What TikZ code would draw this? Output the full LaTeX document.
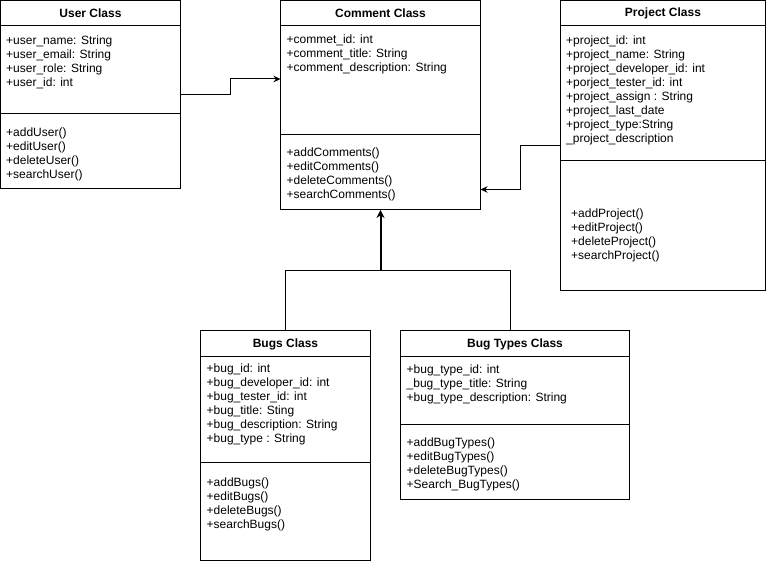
\documentclass[tikz,border=0pt]{standalone}
\usepackage{fontspec}
\setmainfont{Liberation Sans}
\usetikzlibrary{arrows.meta}
\begin{document}
\begin{tikzpicture}[x=1pt,y=-1pt,
 cls/.style={draw, line width=1pt, inner sep=0pt, outer sep=0pt, anchor=north west},
 ttl/.style={font=\fontsize{12}{14}\selectfont\bfseries, inner sep=0pt, anchor=center},
 txt/.style={font=\fontsize{12}{14}\selectfont, inner sep=0pt, anchor=north west, align=left},
 sepline/.style={line width=1pt},
 conn/.style={line width=1pt, -{Stealth[length=7pt,width=6.5pt]}},
 bus/.style={line width=1pt},
 thick conn/.style={line width=2pt, -{Stealth[length=8pt,width=8pt]}},
]
\useasboundingbox (0,0) rectangle (766,564);
\fill[white] (0,0) rectangle (766,564);

% User Class
\node[cls, minimum width=180pt, minimum height=188.5pt] (user) at (0.5,0.5) {};
\node[ttl] (userT) at (90.5,13) {User Class};
\draw[sepline] (0.5,26) -- (180.5,26);
\draw[sepline] (0.5,113.5) -- (180.5,113.5);
\node[txt] (userA) at (6,34.3) {\rule{0pt}{10pt}+user\_name: String\\+user\_email: String\\+user\_role: String\\+user\_id: int};
\node[txt] (userM) at (6,126) {\rule{0pt}{10pt}+addUser()\\+editUser()\\+deleteUser()\\+searchUser()};

% Comment Class
\node[cls, minimum width=200pt, minimum height=209.5pt] (comment) at (280.5,0.5) {};
\node[ttl] (commentT) at (380.5,13) {Comment Class};
\draw[sepline] (280.5,26) -- (480.5,26);
\draw[sepline] (280.5,134.5) -- (480.5,134.5);
\node[txt] (commentA) at (286.5,33.8) {\rule{0pt}{10pt}+commet\_id: int\\+comment\_title: String\\+comment\_description: String};
\node[txt] (commentM) at (286.5,146.3) {\rule{0pt}{10pt}+addComments()\\+editComments()\\+deleteComments()\\+searchComments()};

% Project Class
\node[cls, minimum width=205pt, minimum height=290pt] (project) at (560.5,0.5) {};
\node[ttl] (projectT) at (663,13) {Project Class};
\draw[sepline] (560.5,26) -- (765.5,26);
\draw[sepline] (560.5,160.5) -- (765.5,160.5);
\node[txt] (projectA) at (566,34.3) {\rule{0pt}{10pt}+project\_id: int\\+project\_name: String\\+project\_developer\_id: int\\+porject\_tester\_id: int\\+project\_assign : String\\+project\_last\_date\\+project\_type:String\\\_project\_description};
\node[txt] (projectM) at (571,207.3) {\rule{0pt}{10pt}+addProject()\\+editProject()\\+deleteProject()\\+searchProject()};

% Bugs Class
\node[cls, minimum width=170pt, minimum height=230pt] (bugs) at (200.5,330.5) {};
\node[ttl] (bugsT) at (285.5,344) {Bugs Class};
\draw[sepline] (200.5,356) -- (370.5,356);
\draw[sepline] (200.5,462.5) -- (370.5,462.5);
\node[txt] (bugsA) at (206.5,362.3) {\rule{0pt}{10pt}+bug\_id: int\\+bug\_developer\_id: int\\+bug\_tester\_id: int\\+bug\_title: Sting\\+bug\_description: String\\+bug\_type : String};
\node[txt] (bugsM) at (206.5,476.5) {\rule{0pt}{10pt}+addBugs()\\+editBugs()\\+deleteBugs()\\+searchBugs()};

% Bug Types Class
\node[cls, minimum width=229pt, minimum height=169pt] (bugtypes) at (400.5,330.5) {};
\node[ttl] (bugtypesT) at (515,344) {Bug Types Class};
\draw[sepline] (400.5,356.5) -- (629.5,356.5);
\draw[sepline] (400.5,424) -- (629.5,424);
\node[txt] (bugtypesA) at (406.5,363.3) {\rule{0pt}{10pt}+bug\_type\_id: int\\\_bug\_type\_title: String\\+bug\_type\_description: String};
\node[txt] (bugtypesM) at (406.5,436.3) {\rule{0pt}{10pt}+addBugTypes()\\+editBugTypes()\\+deleteBugTypes()\\+Search\_BugTypes()};

% Connectors
\coordinate (ub) at (230.5,94.75);
\coordinate (ut) at (230.5,79);
\draw[conn] (user.east) -- (ub) -- (ut) -- (comment.west |- ut);

\coordinate (pa) at (520.5,145.5);
\coordinate (pb) at (520.5,189.5);
\draw[conn] (project.west |- pa) -- (pa) -- (pb) -- (comment.east |- pb);

\coordinate (busL) at (285.5,270.5);
\coordinate (busR) at (510.5,270.5);
\coordinate (busM) at (380.5,270.5);
\draw[bus] (bugs.north) -- (busL) -- (busR) -- (bugtypes.north -| busR);
\draw[thick conn] (busM) -- (comment.south);
\end{tikzpicture}
\end{document}
